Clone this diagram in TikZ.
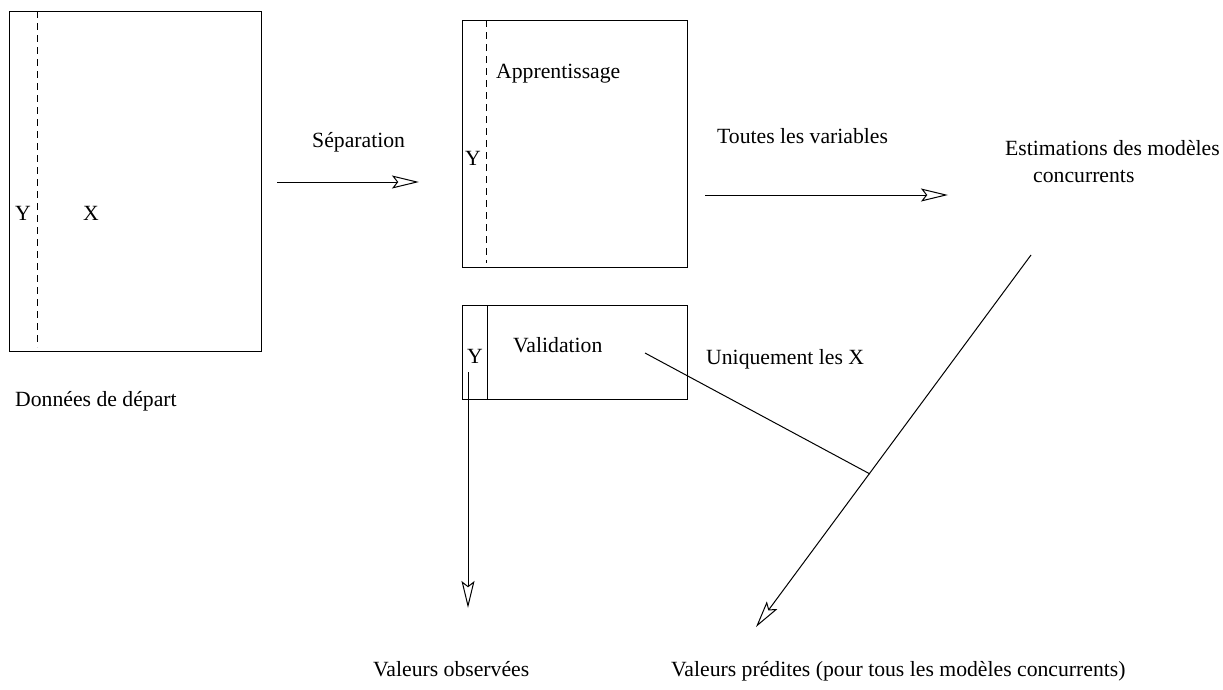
\documentclass[tikz,border=0pt]{standalone}
\usepackage{fontspec}
\setmainfont{Liberation Serif}
\usetikzlibrary{arrows.meta}
\tikzset{
  lbl/.style={anchor=base west, inner sep=0pt, font=\fontsize{21.7}{26}\selectfont},
  frame/.style={draw, line width=1pt},
  sep/.style={line width=1pt},
  conn/.style={line width=1pt, -{Stealth[open, length=27pt, width=13pt, inset=5pt]}},
  plain/.style={line width=1pt}
}
\begin{document}
\begin{tikzpicture}[x=1pt, y=-1pt]
\useasboundingbox (0,0) rectangle (1223,689);
% frames
\draw[frame] (9,11) rectangle (261,351);
\draw[frame] (462,20) rectangle (687,267);
\draw[frame] (462,305) rectangle (687,399);
% separators
\coordinate (d1t) at (37,11); \coordinate (d1b) at (37,347);
\draw[sep, dash pattern=on 7pt off 5pt] (d1t) -- (d1b);
\coordinate (d2t) at (486,20); \coordinate (d2b) at (486,263);
\draw[sep, dash pattern=on 7pt off 5pt] (d2t) -- (d2b);
\coordinate (d3t) at (487,305); \coordinate (d3b) at (487,399);
\draw[sep] (d3t) -- (d3b);
% labels
\node[lbl] (y1) at (15,220) {Y};
\node[lbl] (x1) at (83,220) {X};
\node[lbl] (dep) at (15,406) {Données de départ};
\node[lbl] (sepl) at (312,147) {Séparation};
\node[lbl] (app) at (496,78) {Apprentissage};
\node[lbl] (y2) at (465,165) {Y};
\node[lbl] (val) at (513,352) {Validation};
\node[lbl] (y3) at (467,363) {Y};
\node[lbl] (tout) at (717,143) {Toutes les variables};
\node[lbl] (est1) at (1005,155) {Estimations des modèles};
\node[lbl] (est2) at (1033,182) {concurrents};
\node[lbl] (uniq) at (706,364) {Uniquement les X};
\node[lbl] (obs) at (373,676) {Valeurs observées};
\node[lbl] (pred) at (671,676) {Valeurs prédites (pour tous les modèles concurrents)};
% connectors
\coordinate (a1s) at (277,182); \coordinate (a1e) at (419,182);
\draw[conn] (a1s) -- (a1e);
\coordinate (a2s) at (705,195); \coordinate (a2e) at (948,195);
\draw[conn] (a2s) -- (a2e);
\coordinate (a3s) at (468,372); \coordinate (a3e) at (468,608);
\draw[conn] (a3s) -- (a3e);
\coordinate (a4s) at (1031,255); \coordinate (a4e) at (756,627);
\draw[conn] (a4s) -- (a4e);
\coordinate (l5s) at (645,353); \coordinate (l5e) at (870,474);
\draw[plain] (l5s) -- (l5e);
\end{tikzpicture}
\end{document}
